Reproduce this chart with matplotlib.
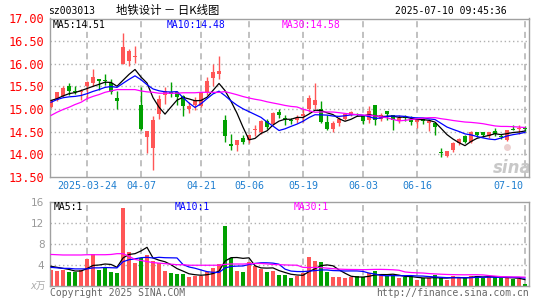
import numpy as np
import pandas as pd
import matplotlib
matplotlib.use("Agg")
import matplotlib.pyplot as plt

# trading days 2025-03-14 .. 2025-07-10 (CN holidays removed)
holidays = ["2025-04-04", "2025-05-01", "2025-05-02", "2025-05-05", "2025-06-02"]
days = pd.bdate_range("2025-03-14", "2025-07-10")
days = days[~days.isin(pd.to_datetime(holidays))]

opens = [15.05, 15.19, 15.29, 15.50, 15.39, 15.38, 15.50, 15.57, 15.66, 15.63,
         15.57, 15.25, 16.00, 16.06, 16.16, 15.08, 14.38, 14.14, 14.90, 15.30,
         15.38, 15.38, 15.28, 15.01, 15.08, 15.06, 15.37, 15.68, 15.77, 14.75,
         14.22, 14.20, 14.37, 14.31, 14.53, 14.49, 14.73, 14.66, 14.93, 14.81,
         14.76, 14.75, 14.84, 15.00, 15.08, 15.01, 14.71, 14.55, 14.69, 14.79,
         14.88, 14.90, 14.84, 14.75, 15.08, 14.79, 14.95, 14.88, 14.74, 14.81,
         14.79, 14.71, 14.78, 14.70, 14.69, 14.04, 13.96, 14.10, 14.25, 14.40,
         14.27, 14.49, 14.49, 14.40, 14.51, 14.40, 14.32, 14.57, 14.55, 14.58]
highs = [15.21, 15.38, 15.52, 15.57, 15.52, 15.45, 15.61, 15.89, 15.67, 15.77,
         15.67, 15.40, 16.68, 16.33, 16.39, 15.49, 14.52, 14.84, 15.30, 15.49,
         15.60, 15.41, 15.30, 15.15, 15.26, 15.38, 15.71, 16.00, 16.18, 14.86,
         14.46, 14.32, 14.42, 14.46, 14.64, 14.76, 14.79, 14.93, 15.01, 14.88,
         14.81, 14.86, 15.01, 15.30, 15.57, 15.17, 14.86, 14.74, 14.82, 14.91,
         14.95, 14.92, 14.86, 15.06, 15.10, 14.91, 14.95, 14.88, 14.88, 14.86,
         14.84, 14.79, 14.81, 14.78, 14.71, 14.15, 14.07, 14.27, 14.36, 14.42,
         14.51, 14.50, 14.50, 14.50, 14.59, 14.46, 14.54, 14.64, 14.65, 14.62]
lows = [15.02, 15.17, 15.27, 15.32, 15.34, 15.20, 15.22, 15.52, 15.42, 15.53,
        15.34, 15.01, 15.99, 15.95, 16.01, 14.53, 14.03, 13.66, 14.79, 15.12,
        15.26, 15.10, 14.84, 14.91, 14.99, 15.04, 15.30, 15.52, 15.66, 14.27,
        14.09, 14.07, 14.22, 14.26, 14.41, 14.46, 14.57, 14.64, 14.81, 14.64,
        14.68, 14.69, 14.71, 14.93, 15.01, 14.69, 14.53, 14.49, 14.62, 14.75,
        14.84, 14.84, 14.68, 14.69, 14.64, 14.74, 14.75, 14.54, 14.69, 14.74,
        14.64, 14.59, 14.68, 14.51, 14.42, 13.94, 13.94, 14.05, 14.20, 14.25,
        14.25, 14.38, 14.39, 14.37, 14.40, 14.35, 14.29, 14.53, 14.46, 14.51]
closes = [15.19, 15.37, 15.47, 15.41, 15.38, 15.41, 15.60, 15.71, 15.63, 15.62,
          15.38, 15.18, 16.37, 16.28, 16.16, 14.55, 14.51, 14.76, 15.23, 15.39,
          15.34, 15.27, 15.06, 15.06, 15.19, 15.37, 15.63, 15.81, 15.83, 14.40,
          14.19, 14.31, 14.27, 14.43, 14.56, 14.74, 14.60, 14.91, 14.86, 14.77,
          14.73, 14.81, 14.90, 15.24, 15.19, 14.71, 14.55, 14.70, 14.79, 14.90,
          14.93, 14.88, 14.74, 14.95, 14.75, 14.86, 14.90, 14.76, 14.81, 14.80,
          14.71, 14.77, 14.74, 14.74, 14.60, 14.03, 14.07, 14.25, 14.34, 14.27,
          14.49, 14.42, 14.42, 14.49, 14.46, 14.39, 14.53, 14.54, 14.55, 14.57]
# volume, 万手
volumes = [2.98, 2.8, 3.0, 2.6, 2.6, 3.0, 5.1, 6.0, 3.0, 3.55,
           2.6, 2.4, 14.86, 6.35, 4.3, 5.2, 5.85, 4.7, 4.25, 2.8,
           2.4, 2.15, 2.3, 1.7, 1.9, 1.9, 2.65, 3.4, 4.05, 11.4,
           5.2, 2.8, 2.6, 4.55, 3.8, 3.2, 2.6, 2.8, 2.0, 2.0,
           1.5, 1.9, 2.5, 5.5, 4.7, 4.5, 2.6, 1.65, 1.65, 1.5,
           1.65, 1.85, 1.6, 2.35, 2.8, 2.0, 1.8, 2.0, 1.45, 1.6,
           1.85, 1.1, 1.4, 1.4, 2.0, 1.4, 1.1, 1.9, 1.4, 1.65,
           1.9, 1.85, 1.5, 1.7, 1.7, 1.4, 1.4, 1.3, 1.3, 0.4]

# moving-average values before enough history is on the chart
ma5_head = [15.19, 15.23, 15.29, 15.34]
ma10_head = [15.15, 15.21, 15.25, 15.27, 15.28, 15.30, 15.34, 15.39, 15.43]
ma30_head = [14.86, 14.93, 14.99, 15.04, 15.10, 15.15, 15.23, 15.28, 15.32, 15.37,
             15.40, 15.43, 15.43, 15.43, 15.43, 15.40, 15.38, 15.37, 15.35, 15.35,
             15.35, 15.35, 15.36, 15.36, 15.36, 15.37, 15.37, 15.37, 15.37]
vma5_head = [3.7, 3.5, 3.3, 3.1]
vma10_head = [3.5, 3.4, 3.3, 3.3, 3.2, 3.2, 3.2, 3.4, 3.4]
vma30_head = [5.95, 5.9, 5.85, 5.85, 5.85, 5.85, 5.9, 5.9, 5.9, 5.9,
              5.95, 6.1, 6.1, 5.6, 5.0, 4.8, 4.6, 4.4, 4.3, 4.2,
              4.1, 4.0, 4.0, 3.9, 3.9, 3.9, 3.9, 3.9, 3.9]

tick_dates = ["2025-03-24", "2025-04-07", "2025-04-21", "2025-05-06",
              "2025-05-19", "2025-06-03", "2025-06-16", "2025-07-10"]
tick_labels = ["2025-03-24", "04-07", "04-21", "05-06", "05-19", "06-03", "06-16", "07-10"]


def moving_avg(values, n, head):
    ma = pd.Series(values).rolling(n).mean().values
    ma[:len(head)] = head
    return ma


RED = "#ff5656"
GREEN = "#00a000"
GRID = "#b0b0b0"
MONO = "DejaVu Sans Mono"

o = np.array(opens); h = np.array(highs); l = np.array(lows); c = np.array(closes)
v = np.array(volumes)
x = np.arange(len(days))
up = c >= o
colors = np.where(up, RED, GREEN)
tick_idx = [list(days.strftime("%Y-%m-%d")).index(d) for d in tick_dates]

W, H = 545, 300
fig = plt.figure(figsize=(W / 100, H / 100), dpi=100)
fig.patch.set_facecolor("white")


def px(xp, yp):
    return xp / W, 1 - yp / H


ax = fig.add_axes([50 / W, 1 - 177 / H, 479 / W, (177 - 18.5) / H])
axv = fig.add_axes([50 / W, 1 - 285.7 / H, 479 / W, (285.7 - 201.7) / H])

for a in (ax, axv):
    a.set_xlim(-0.17, 79.67)
    for s in a.spines.values():
        s.set_color("#a0a0a0")
        s.set_linewidth(1)
    a.set_xticks([])
    a.tick_params(length=0)
    for i in tick_idx:
        a.axvline(i, color=GRID, lw=1.1, ls=(0, (4, 3)), zorder=0)

# price panel
ax.set_ylim(13.5, 17.0)
levels = np.arange(13.5, 17.01, 0.5)
ax.set_yticks(levels)
ax.set_yticklabels([f"{p:.2f}" for p in levels], color="red", fontsize=8.6,
                   family=MONO)
ax.tick_params(axis="y", pad=4.5)
for p in levels[1:-1]:
    ax.axhline(p, color=GRID, lw=1, ls=(0, (1, 2)), zorder=0)

ax.vlines(x, l, h, color=colors, lw=1, zorder=2)
body = np.maximum(np.abs(c - o), 0.022)
ax.bar(x, body, 0.8, bottom=np.minimum(o, c), color=colors, linewidth=0, zorder=3)

ax.plot(x, moving_avg(c, 5, ma5_head), color="black", lw=0.9, zorder=4)
ax.plot(x, moving_avg(c, 10, ma10_head), color="blue", lw=0.9, zorder=4)
ax.plot(x, moving_avg(c, 30, ma30_head), color="magenta", lw=0.9, zorder=4)

# watermark (logo dot + text)
ax.plot(0.955, 0.19, "o", transform=ax.transAxes, ms=5, color="#ecd0d0",
        mec="none", zorder=1, clip_on=False)
ax.text(0.965, 0.055, "sina", transform=ax.transAxes, fontsize=12, fontweight="bold",
        style="italic", color="#c8c8c8", ha="center", va="center", zorder=1)

# volume panel
axv.set_ylim(0, 16)
axv.set_yticks([0, 4, 8, 12, 16])
axv.set_yticklabels(["", "4", "8", "12", "16"], color="#999999", fontsize=7.5)
axv.tick_params(axis="y", pad=4)
for q in (4, 8, 12):
    axv.axhline(q, color=GRID, lw=1, ls=(0, (1, 2)), zorder=0)
axv.bar(x, v, 0.8, color=colors, linewidth=0, zorder=2)
axv.plot(x, moving_avg(v, 5, vma5_head), color="black", lw=0.9, zorder=4)
axv.plot(x, moving_avg(v, 10, vma10_head), color="blue", lw=0.9, zorder=4)
axv.plot(x, moving_avg(v, 30, vma30_head), color="magenta", lw=0.9, zorder=4)

# date labels
for k, (i, lab) in enumerate(zip(tick_idx, tick_labels)):
    last = k == len(tick_idx) - 1
    ax.text(i - (0.25 if last else 0), -0.057, lab, transform=ax.get_xaxis_transform(),
            ha="right" if last else "center", va="center", color="#1f7fd0",
            fontsize=7.2, family=MONO)

# header
fig.text(*px(48, 10.5), "sz003013", fontsize=7, family=MONO, va="center")
fig.text(*px(116, 10.5), "地铁设计 － 日K线图", fontsize=8.2,
         family=["Noto Sans CJK SC", "DejaVu Sans"], va="center")
fig.text(*px(507, 10.5), "2025-07-10 09:45:36", fontsize=7, family=MONO,
         va="center", ha="right")

# legends
fig.text(*px(53, 24.5), f"MA5:{14.51:.2f}", fontsize=7, family=MONO, va="center")
fig.text(*px(167, 24.5), f"MA10:{14.48:.2f}", fontsize=7, family=MONO, va="center", color="blue")
fig.text(*px(282, 24.5), f"MA30:{14.58:.2f}", fontsize=7, family=MONO, va="center", color="magenta")
fig.text(*px(54, 207), "MA5:1", fontsize=7, family=MONO, va="center")
fig.text(*px(175, 207), "MA10:1", fontsize=7, family=MONO, va="center", color="blue")
fig.text(*px(294, 207), "MA30:1", fontsize=7, family=MONO, va="center", color="magenta")

fig.text(*px(46, 286), "x万", fontsize=7, color="#aaaaaa", va="center", ha="right",
         style="italic", family=["DejaVu Sans", "Noto Sans CJK SC"])

# footer
fig.text(*px(50, 292.5), "Copyright 2025 SINA.COM", fontsize=7, family=MONO,
         color="#666666", va="center")
fig.text(*px(529, 292.5), "http://finance.sina.com.cn", fontsize=7, family=MONO,
         color="#666666", va="center", ha="right")

fig.savefig("out.png", dpi=100)
